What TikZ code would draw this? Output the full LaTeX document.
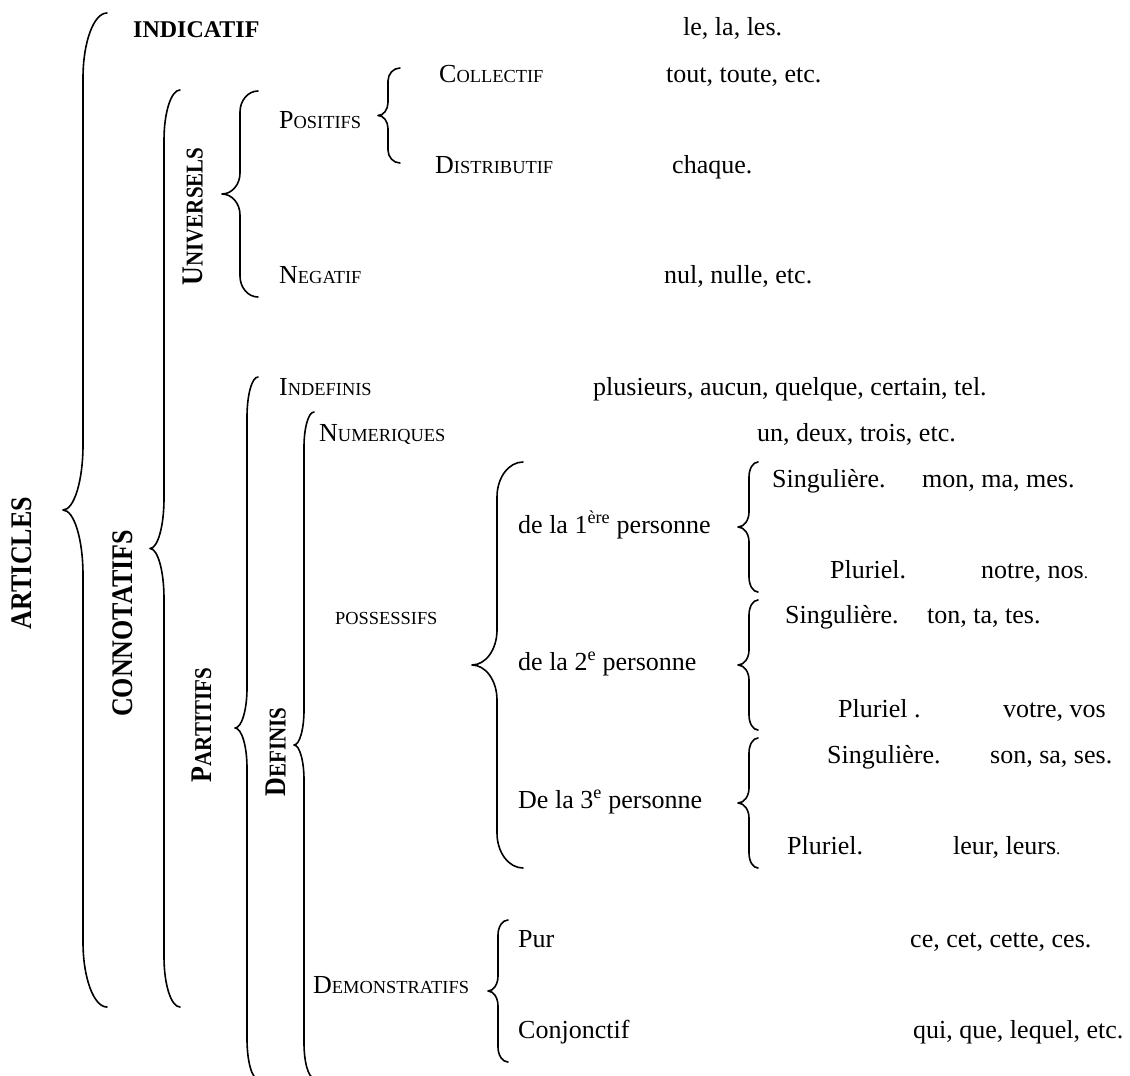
\documentclass[tikz,border=0pt]{standalone}
\usepackage{graphicx}
\usepackage{fontspec}
\setmainfont{Liberation Serif}
\newcommand\fsc[2]{#1{\fontsize{18.4}{20}\selectfont #2}}
\newcommand\fbsc[2]{#1{\fontsize{21}{24}\selectfont #2}}
\newcommand\smalldot{{\fontsize{17}{20}\selectfont .}}
\newcommand\tallbox[1]{\scalebox{1}[1.15]{#1}}
% Word-style left brace: #1 end x, #2 line x, #3 tip x, #4 top y, #5 bottom y, #6 curl
\newcommand\wbrace[6]{%
  \pgfmathsetmacro\bym{(#4+#5)/2}%
  \pgfmathsetmacro\bwa{(#1-#2)*0.5523}%
  \pgfmathsetmacro\bwb{(#2-#3)*0.5523}%
  \pgfmathsetmacro\brk{#6*0.5523}%
  \draw[bracestyle] (#1,#4) .. controls ({#1-\bwa},#4) and (#2,{#4+#6-\brk}) .. (#2,{#4+#6})
    -- (#2,{\bym-#6}) .. controls (#2,{\bym-#6+\brk}) and ({#3+\bwb},\bym) .. (#3,\bym)
    .. controls ({#3+\bwb},\bym) and (#2,{\bym+#6-\brk}) .. (#2,{\bym+#6})
    -- (#2,{#5-#6}) .. controls (#2,{#5-#6+\brk}) and ({#1-\bwa},#5) .. (#1,#5);%
}
\tikzset{
  txt/.style={inner sep=0pt, anchor=base west, font=\fontsize{26}{30}\selectfont},
  rot/.style={inner sep=0pt, rotate=90, anchor=center, font=\bfseries\fontsize{26}{30}\selectfont},
  bracestyle/.style={line width=1.6pt, line cap=round, line join=round}
}
\begin{document}
\begin{tikzpicture}[x=1pt,y=-1pt]
\useasboundingbox (0,0) rectangle (1130,1076);

% braces
\wbrace{107}{83}{63}{13}{1007}{65}
\wbrace{180}{164}{150}{90}{1007}{50}
\wbrace{258}{240}{222}{91}{297}{21}
\wbrace{400}{388}{378}{68}{163}{13}
\wbrace{258}{247}{235}{377}{1079}{40}
\wbrace{314}{304}{294}{412}{1078}{35}
\wbrace{523}{497}{472}{462}{868}{35}
\wbrace{758}{749}{738}{462}{592}{15}
\wbrace{758}{749}{738}{600}{730}{15}
\wbrace{758}{749}{738}{738}{868}{15}
\wbrace{508}{498}{488}{920}{1062}{15}

% rotated labels
\node[rot] (articles) at (22,563) {\tallbox{ARTICLES}};
\node[rot] (connotatifs) at (123,623.5) {\tallbox{CONNOTATIFS}};
\node[rot] (universels) at (193,216.5) {\tallbox{\fbsc{U}{NIVERSELS}}};
\node[rot] (partitifs) at (201.5,725) {\tallbox{\fbsc{P}{ARTITIFS}}};
\node[rot] (definis) at (276,752) {\tallbox{\fbsc{D}{EFINIS}}};

% horizontal labels
\node[txt, font=\bfseries\fontsize{24}{28}\selectfont] (indicatif) at (133,37) {INDICATIF};
\node[txt] (lelales) at (683,35) {le, la, les.};
\node[txt] (collectif) at (439,82) {\fsc{C}{OLLECTIF}};
\node[txt] (tout) at (666,82) {tout, toute, etc.};
\node[txt] (positifs) at (279,128) {\fsc{P}{OSITIFS}};
\node[txt] (distributif) at (435,173) {\fsc{D}{ISTRIBUTIF}};
\node[txt] (chaque) at (672,173) {chaque.};
\node[txt] (negatif) at (279,283) {\fsc{N}{EGATIF}};
\node[txt] (nul) at (664,283) {nul, nulle, etc.};
\node[txt] (indefinis) at (279,395) {\fsc{I}{NDEFINIS}};
\node[txt] (plusieurs) at (593,395) {plusieurs, aucun, quelque, certain, tel.};
\node[txt] (numeriques) at (319,441) {\fsc{N}{UMERIQUES}};
\node[txt] (undeux) at (757,441) {un, deux, trois, etc.};
\node[txt] (possessifs) at (335,624) {\fontsize{18.4}{20}\selectfont POSSESSIFS};
\node[txt] (pers1) at (518,533) {de la 1\textsuperscript{ère} personne};
\node[txt] (pers2) at (518,670) {de la 2\textsuperscript{e} personne};
\node[txt] (pers3) at (518,808) {De la 3\textsuperscript{e} personne};
\node[txt] (sing1) at (772,487) {Singulière.};
\node[txt] (mon) at (922,487) {mon, ma, mes.};
\node[txt] (plur1) at (830,578) {Pluriel.};
\node[txt] (notre) at (981,578) {notre, nos\smalldot};
\node[txt] (sing2) at (785,623) {Singulière.};
\node[txt] (ton) at (927,623) {ton, ta, tes.};
\node[txt] (plur2) at (838,717) {Pluriel .};
\node[txt] (votre) at (1003,717) {votre, vos};
\node[txt] (sing3) at (827,763) {Singulière.};
\node[txt] (son) at (990,763) {son, sa, ses.};
\node[txt] (plur3) at (787,854) {Pluriel.};
\node[txt] (leur) at (953,854) {leur, leurs\smalldot};
\node[txt] (demonstratifs) at (313,993) {\fsc{D}{EMONSTRATIFS}};
\node[txt] (pur) at (518,947) {Pur};
\node[txt] (ce) at (910,947) {ce, cet, cette, ces.};
\node[txt] (conjonctif) at (518,1038) {Conjonctif};
\node[txt] (qui) at (913,1038) {qui, que, lequel, etc.};
\end{tikzpicture}
\end{document}
